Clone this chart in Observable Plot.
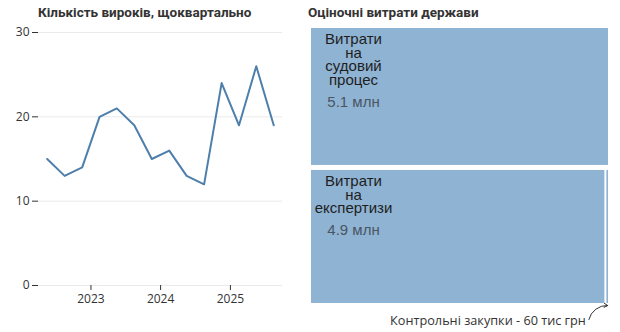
<!DOCTYPE html>
<html>
<head>
<meta charset="utf-8">
<script src="https://cdn.jsdelivr.net/npm/d3@7"></script>
<script src="https://cdn.jsdelivr.net/npm/@observablehq/plot@0.6"></script>
<style>
  body { margin: 0; background: #fff; font-family: "Open Sans", sans-serif; color: #333; }
  #wrap { display: flex; width: 620px; }
  .panel { position: relative; }
  .title { font-family: Roboto, "Open Sans", sans-serif; font-size: 13.5px; font-weight: 700; height: 22px; line-height: 22px; padding-top: 1px; box-sizing: border-box; color: #333; white-space: nowrap; }
  svg { display: block; }
</style>
</head>
<body>
<div id="wrap">
  <div class="panel" id="left" style="width:300px">
    <div class="title" style="padding-left:38px">Кількість вироків, щоквартально</div>
  </div>
  <div class="panel" id="right" style="width:320px">
    <div class="title" style="padding-left:8px">Оціночні витрати держави</div>
  </div>
</div>
<script>
// ---- Left chart data: sentences per quarter ----
const quarters = ["2022-Q2","2022-Q3","2022-Q4","2023-Q1","2023-Q2","2023-Q3","2023-Q4",
                  "2024-Q1","2024-Q2","2024-Q3","2024-Q4","2025-Q1","2025-Q2","2025-Q3"];
const sentences = [15, 13, 14, 20, 21, 19, 15, 16, 13, 12, 24, 19, 26, 19];
const yTicks = [0, 10, 20, 30];
const xTickYears = [2023, 2024, 2025];

// ---- Right chart data: estimated state costs ----
const costNames = ["Витрати на судовий процес", "Витрати на експертизи", "Контрольні закупки"];
const costValues = [5.1, 4.9, 0.06];           // million UAH
const costLabels = ["5.1 млн", "4.9 млн", "60 тис грн"];

// quarter -> dates
function qParts(q) { return q.split("-Q").map(Number); }
function quarterStart(q) { const [y, qq] = qParts(q); return new Date(Date.UTC(y, (qq - 1) * 3, 1)); }
function quarterEnd(q) { const [y, qq] = qParts(q); return new Date(Date.UTC(y, qq * 3, 1)); }
function quarterMid(q) { return new Date((+quarterStart(q) + +quarterEnd(q)) / 2); }

const lineData = quarters.map((q, i) => ({date: quarterMid(q), value: sentences[i]}));

const left = Plot.plot({
  width: 300, height: 293,
  marginLeft: 38, marginRight: 18, marginTop: 10, marginBottom: 30,
  style: {fontFamily: "'Open Sans', sans-serif", fontSize: "12px", color: "#333", background: "#fff"},
  x: {type: "utc", domain: [quarterStart(quarters[0]), quarterEnd(quarters[quarters.length - 1])],
      ticks: xTickYears.map(y => new Date(Date.UTC(y, 0, 1))), tickFormat: "%Y", label: null, tickSize: 5},
  y: {domain: [0, 30], ticks: yTicks, grid: true, label: null},
  marks: [
    Plot.lineY(lineData, {x: "date", y: "value", stroke: "#4e7fab", strokeWidth: 2})
  ]
});
document.getElementById("left").appendChild(left);

// ---- Treemap layout ----
const W = 320, H = 310, mL = 11, mR = 12, mT = 6, mB = 29;
const iw = W - mL - mR, ih = H - mT - mB;
const items = costNames.map((n, i) => ({name: n, value: costValues[i], label: costLabels[i]}));
const tree = {children: [items[0], {children: items.slice(1)}]};
const root = d3.hierarchy(tree).sum(d => d.value || 0);
d3.treemap()
  .size([iw, ih])
  .paddingInner(d => d.depth === 0 ? 5 : 2)
  .tile((node, x0, y0, x1, y1) => (node.depth === 0 ? d3.treemapSlice : d3.treemapDice)(node, x0, y0, x1, y1))(root);
const leaves = root.leaves();
const big = leaves.filter(d => d.x1 - d.x0 > 40);
const small = leaves.filter(d => d.x1 - d.x0 <= 40);

const lineH = 13.3;
const right = Plot.plot({
  width: W, height: H, marginLeft: mL, marginRight: mR, marginTop: mT, marginBottom: mB,
  style: {fontFamily: "'Open Sans', sans-serif", fontSize: "12px", color: "#333", background: "#fff", overflow: "visible"},
  x: {domain: [0, iw], axis: null},
  y: {domain: [0, ih], reverse: true, axis: null},
  marks: [
    Plot.rect(leaves, {x1: "x0", x2: "x1", y1: "y0", y2: "y1", fill: "#8fb3d3"}),
    Plot.text(big, {x: "x0", y: "y0", text: d => d.data.name.split(" ").join("\n"),
      dx: 42, dy: 6, lineAnchor: "top", textAnchor: "middle", fontSize: 15, lineHeight: 0.9,
      fill: "#1e1e1e", fontFamily: "'Liberation Sans', Arial, sans-serif"}),
    Plot.text(big, {x: "x0", y: d => d.y0 + d.data.name.split(" ").length * lineH + 20, text: d => d.data.label,
      dx: 42, lineAnchor: "middle", textAnchor: "middle", fontSize: 15,
      fill: "#4a5563", fontFamily: "'Liberation Sans', Arial, sans-serif"}),
    Plot.arrow(small, {x1: d => d.x0 - 18, y1: ih + 16, x2: d => (d.x0 + d.x1) / 2, y2: d => d.y1 + 2,
      bend: 40, headLength: 6, stroke: "#333", strokeWidth: 1}),
    Plot.text(small, {x: d => d.x0 - 21, y: ih + 17, text: d => d.data.name + " - " + d.data.label,
      textAnchor: "end", fontSize: 12.7, fill: "#333"})
  ]
});
document.getElementById("right").appendChild(right);
</script>
</body>
</html>
